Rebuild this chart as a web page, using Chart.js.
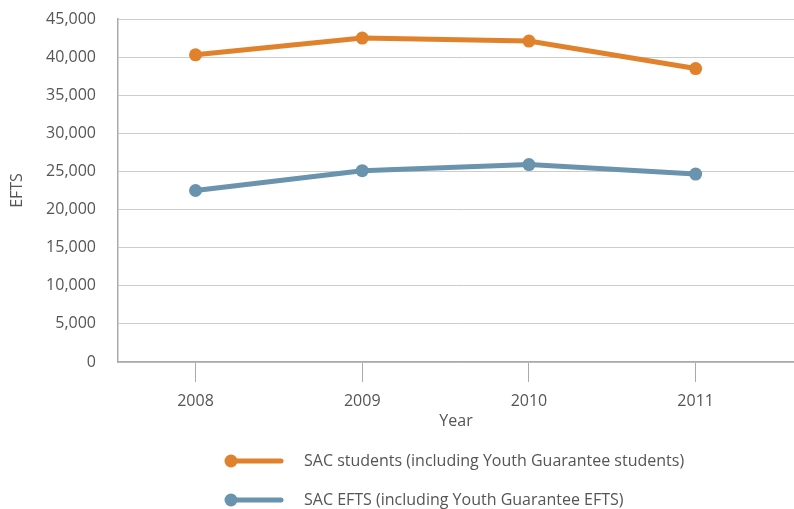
<!DOCTYPE html>
<html><head><meta charset="utf-8">
<script src="https://cdn.jsdelivr.net/npm/chart.js@4/dist/chart.umd.min.js"></script>
<style>html,body{margin:0;padding:0;background:#fff}#wrap{width:794px;height:509px}</style>
</head><body><div id="wrap"><canvas id="c" width="794" height="509"></canvas></div>
<script>
const years = [2008, 2009, 2010, 2011];
const sacStudents = [40300, 42500, 42100, 38500];
const sacEfts = [22500, 25100, 25900, 24650];
const seriesLabels = ['SAC students (including Youth Guarantee students)', 'SAC EFTS (including Youth Guarantee EFTS)'];
const yTicks = [0, 5000, 10000, 15000, 20000, 25000, 30000, 35000, 40000, 45000];
const colors = ['#E0822C', '#6A93AE'];
const FONT = '"Open Sans", "Noto Sans", sans-serif';

const legendPlugin = {
  id: 'customLegend',
  afterDraw(chart) {
    const ctx = chart.ctx;
    const rows = [461, 500];
    ctx.save();
    rows.forEach((y, i) => {
      ctx.strokeStyle = colors[i];
      ctx.lineWidth = 5;
      ctx.lineCap = 'round';
      ctx.beginPath(); ctx.moveTo(230, y); ctx.lineTo(281, y); ctx.stroke();
      ctx.fillStyle = colors[i];
      ctx.beginPath(); ctx.arc(231, y, 6.5, 0, Math.PI * 2); ctx.fill();
      ctx.fillStyle = '#555';
      ctx.font = '16px ' + FONT;
      ctx.textBaseline = 'middle';
      ctx.fillText(seriesLabels[i], 304, y);
    });
    ctx.restore();
  }
};

new Chart(document.getElementById('c'), {
  type: 'line',
  data: {
    datasets: [
      { label: seriesLabels[0], data: years.map((x, i) => ({ x, y: sacStudents[i] })), borderColor: colors[0], backgroundColor: colors[0], borderWidth: 5, pointRadius: 6.5, pointHoverRadius: 6.5, pointBorderWidth: 0 },
      { label: seriesLabels[1], data: years.map((x, i) => ({ x, y: sacEfts[i] })), borderColor: colors[1], backgroundColor: colors[1], borderWidth: 5, pointRadius: 6.5, pointHoverRadius: 6.5, pointBorderWidth: 0 }
    ]
  },
  options: {
    responsive: false,
    animation: false,
    layout: { autoPadding: false, padding: { top: 19, right: 0, left: 0, bottom: 78 } },
    plugins: { legend: { display: false }, tooltip: { enabled: false } },
    scales: {
      x: {
        type: 'linear',
        min: 2007.535,
        max: 2011.59,
        afterBuildTicks: (s) => { s.ticks = years.map(v => ({ value: v })); },
        afterFit: (s) => { s.height = 69; s.paddingLeft = 0; s.paddingRight = 0; },
        ticks: { color: '#555', font: { family: FONT, size: 16 }, padding: 10, callback: (v) => String(v) },
        grid: { drawOnChartArea: false, drawTicks: true, tickLength: 20, color: '#aaa', lineWidth: 1 },
        border: { color: '#aaa', width: 1.5 },
        title: { display: true, text: 'Year', color: '#555', font: { family: FONT, size: 16 }, padding: { top: 0, bottom: 0 } }
      },
      y: {
        min: 0, max: 45000,
        afterBuildTicks: (s) => { s.ticks = yTicks.map(v => ({ value: v })); },
        afterFit: (s) => { s.width = 118; s.paddingTop = 0; s.paddingBottom = 0; },
        ticks: { color: '#555', font: { family: FONT, size: 16 }, padding: 22, callback: (v) => v.toLocaleString('en-US') },
        grid: { drawTicks: false, color: '#ccc', lineWidth: 1 },
        border: { color: '#aaa', width: 1.5 },
        title: { display: true, text: 'EFTS', color: '#555', font: { family: FONT, size: 16 }, padding: { top: 8, bottom: 0 } }
      }
    }
  },
  plugins: [legendPlugin]
});
</script></body></html>
